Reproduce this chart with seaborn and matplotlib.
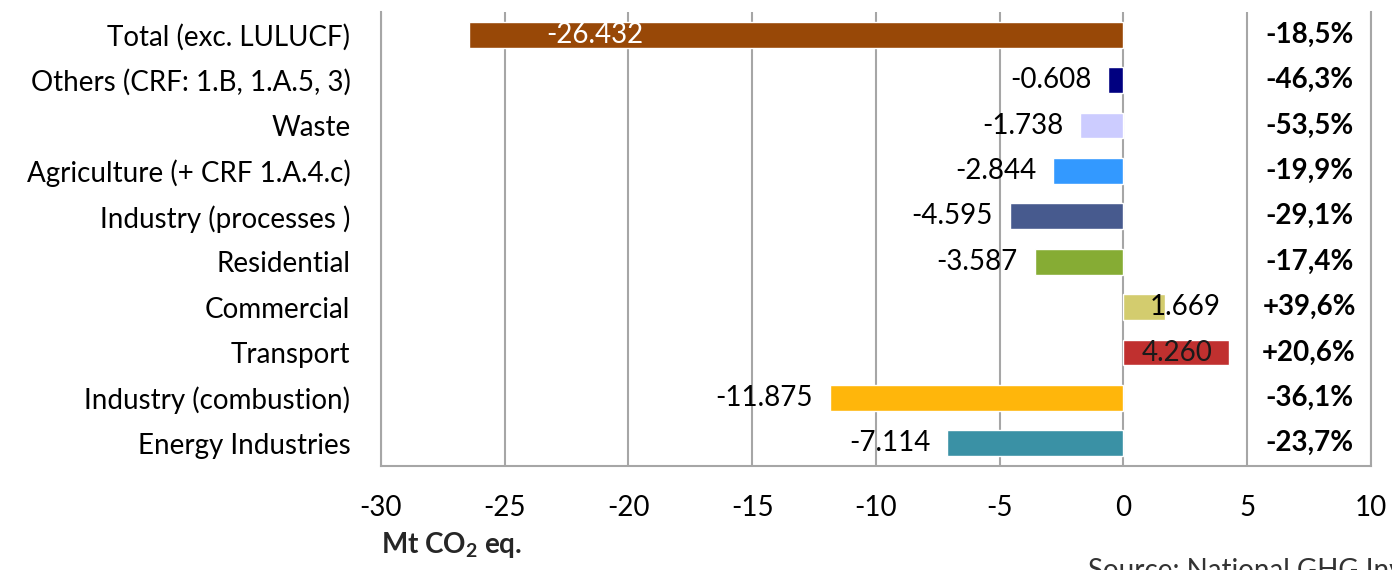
import matplotlib
matplotlib.use("Agg")
import matplotlib.pyplot as plt
import seaborn as sns
import pandas as pd

categories = ["Total (exc. LULUCF)", "Others (CRF: 1.B, 1.A.5, 3)", "Waste",
              "Agriculture (+ CRF 1.A.4.c)", "Industry (processes )", "Residential",
              "Commercial", "Transport", "Industry (combustion)", "Energy Industries"]
values = [-26.432, -0.608, -1.738, -2.844, -4.595, -3.587, 1.669, 4.260, -11.875, -7.114]
value_labels = ["-26.432", "-0.608", "-1.738", "-2.844", "-4.595", "-3.587",
                "1.669", "4.260", "-11.875", "-7.114"]
pct_labels = ["-18,5%", "-46,3%", "-53,5%", "-19,9%", "-29,1%", "-17,4%",
              "+39,6%", "+20,6%", "-36,1%", "-23,7%"]
colors = ["#984807", "#000080", "#CCCCFF", "#3399FF", "#475A8E", "#86AC34",
          "#D3CC6E", "#C0302F", "#FFB60B", "#3A91A5"]
x_ticks = [-30, -25, -20, -15, -10, -5, 0, 5, 10]

sns.set_theme(style="white")
plt.rcParams["font.family"] = ["Lato", "DejaVu Sans"]
plt.rcParams["mathtext.fontset"] = "custom"
plt.rcParams["mathtext.bf"] = "Lato:bold"
plt.rcParams["mathtext.rm"] = "Lato"

FS = 20

df = pd.DataFrame({"category": categories, "value": values})

fig = plt.figure(figsize=(13.92, 5.70), dpi=100)
ax = fig.add_axes([381 / 1392, 104 / 570, 990 / 1392, 454 / 570])

sns.barplot(data=df, y="category", x="value", hue="category", palette=colors,
            orient="h", width=0.57, legend=False, ax=ax, saturation=1)

ax.set_xlim(-30, 10)
ax.set_ylim(9.5, -0.5)
ax.set_xticks(x_ticks)
ax.set_xticklabels([str(t) for t in x_ticks])
ax.set_axisbelow(True)
ax.grid(axis="x", color="#A6A6A6", lw=1.5)
ax.grid(axis="y", visible=False)
for s in ["left", "bottom", "right"]:
    ax.spines[s].set_visible(True)
    ax.spines[s].set_color("#A6A6A6")
    ax.spines[s].set_linewidth(1.5)
ax.spines["top"].set_visible(False)
ax.set_xlabel("")
ax.set_ylabel("")
ax.tick_params(axis="x", length=0, pad=21, labelsize=FS, colors="black")
ax.tick_params(axis="y", length=0, pad=22, labelsize=FS, colors="black")

px = 72 / 100.0  # points per pixel
for i, (v, lab) in enumerate(zip(values, value_labels)):
    if i == 0:
        ax.annotate(lab, (v, i), xytext=(77 * px, 0), textcoords="offset points",
                    ha="left", va="center", fontsize=FS, color="white")
    elif v < 0:
        ax.annotate(lab, (v, i), xytext=(-17 * px, 0), textcoords="offset points",
                    ha="right", va="center", fontsize=FS, color="black")
    elif v < 3:
        ax.annotate(lab, (v, i), xytext=(-15 * px, 0), textcoords="offset points",
                    ha="left", va="center", fontsize=FS, color="black")
    else:
        ax.annotate(lab, (v, i), xytext=(-16 * px, 0), textcoords="offset points",
                    ha="right", va="center", fontsize=FS, color="#1a1a1a")

for i, p in enumerate(pct_labels):
    ax.text(7.5, i, p, ha="center", va="center", fontsize=FS, fontweight="bold",
            color="black")

fig.text(381 / 1392, 1 - 545 / 570, r"Mt CO$_\mathbf{2}$ eq.", ha="left", va="center",
         fontsize=FS, fontweight="bold")
fig.text(1088 / 1392, 1 - 558 / 570, "Source: National GHG Inventory",
         ha="left", va="top", fontsize=FS, color="#333333")

fig.savefig("out.png", dpi=100)
